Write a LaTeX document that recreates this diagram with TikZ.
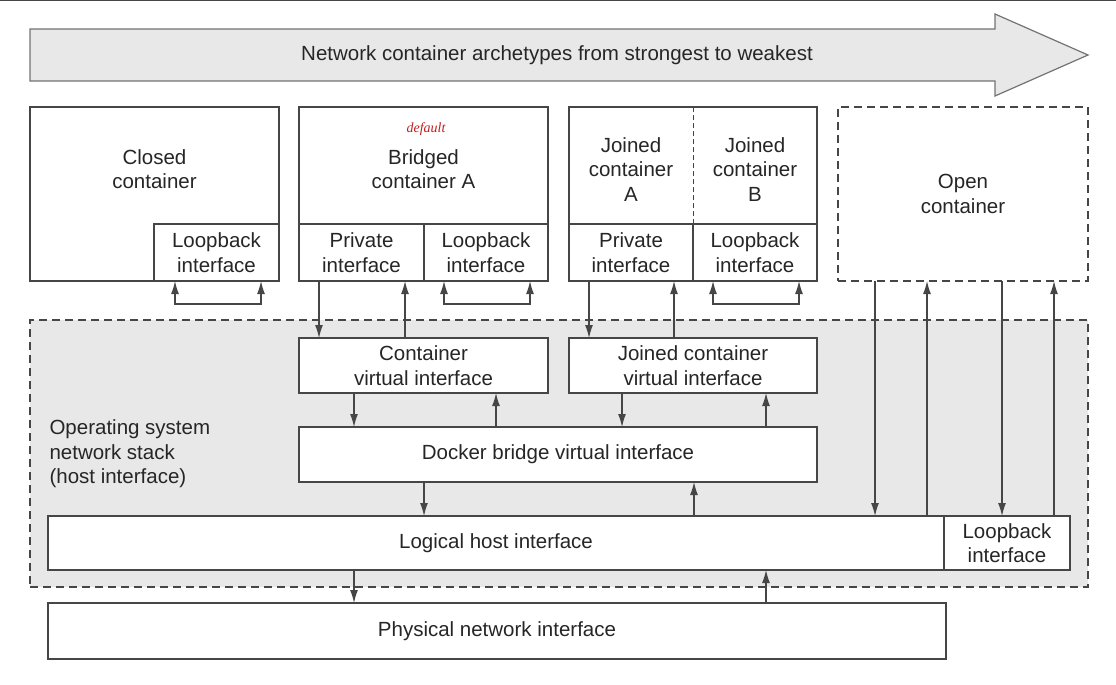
\documentclass[tikz,border=0pt]{standalone}
\usepackage{fontspec}
\setmainfont{Liberation Sans}
\newfontfamily\notefont{Liberation Serif}
\usetikzlibrary{arrows.meta}
\usetikzlibrary{positioning}
\definecolor{stackgray}{RGB}{232,232,232}
\definecolor{linegray}{RGB}{70,70,70}
\definecolor{notered}{RGB}{195,30,30}

\begin{document}
\begin{tikzpicture}[x=1pt, y=-1pt, >={Latex[length=13pt,width=8pt]}]
  \tikzset{every node/.style={font=\fontsize{20.5}{24.5}\selectfont, align=center, text=black!85},
    box/.style={draw=linegray, line width=1.2pt, fill=white, inner sep=0pt, outer sep=0pt},
    dashbox/.style={box, dash pattern=on 8pt off 5pt},
    link/.style={->, draw=linegray, line width=1.2pt}}
  \useasboundingbox (0,0) rectangle (1116,685);
  \draw[linegray, line width=1.5pt] (0,0.75) -- (1116,0.75);

  % strongest to weakest
  \filldraw[fill=stackgray, draw=black!55, line width=1.2pt]
    (30,29) -- (995,29) -- (995,14) -- (1088,55) -- (995,96) -- (995,81) -- (30,81) -- cycle;
  \node (scale) at (557,55) {Network container archetypes from strongest to weakest};

  % host side
  \node[dashbox, fill=stackgray, minimum width=1058pt, minimum height=267pt] (os) at (559,453.5) {};
  \node[anchor=west, align=left] (ostext) at (46,454) {Operating system\\network stack\\(host interface)};

  % containers
  \node[box, minimum width=249pt, minimum height=174pt] (closed) at (154.5,194) {};
  \node (closedtext) at (154.5,169) {Closed\\container};
  \node[box, anchor=south east, minimum width=125pt, minimum height=57pt] (closedlo) at (closed.south east) {Loopback\\interface};

  \node[box, minimum width=249pt, minimum height=174pt] (bridged) at (423.5,194) {};
  \node (bridgedtext) at (423.5,169) {Bridged\\container A};
  \node[font=\notefont\itshape\fontsize{14}{14}\selectfont, text=notered] (default) at (426,129) {default};
  \node[box, anchor=south west, minimum width=125pt, minimum height=57pt] (privA) at (bridged.south west) {Private\\interface};
  \node[box, anchor=south east, minimum width=124pt, minimum height=57pt] (loA) at (bridged.south east) {Loopback\\interface};

  \node[box, minimum width=248pt, minimum height=174pt] (joined) at (693,194) {};
  \node (joinedA) at (631,169.5) {Joined\\container\\A};
  \node (joinedB) at (755,169.5) {Joined\\container\\B};
  \node[box, anchor=south west, minimum width=124pt, minimum height=57pt] (privJ) at (joined.south west) {Private\\interface};
  \node[box, anchor=south east, minimum width=124pt, minimum height=57pt] (loJ) at (joined.south east) {Loopback\\interface};
  \draw[linegray, line width=1pt, dash pattern=on 5pt off 3pt] (loJ.north west) -- (joined.north -| loJ.west);

  \node[dashbox, minimum width=250pt, minimum height=174pt] (open) at (963,194) {Open\\container};

  % virtual interfaces
  \node[box, minimum width=249pt, minimum height=55pt] (cvi) at (423.5,365.5) {Container\\virtual interface};
  \node[box, minimum width=248pt, minimum height=55pt] (jcvi) at (693,365.5) {Joined container\\virtual interface};
  \node[box, minimum width=518pt, minimum height=55pt] (docker) at (558,454.5) {Docker bridge virtual interface};
  \node[box, minimum width=896pt, minimum height=54pt] (logical) at (496,543) {Logical host interface};
  \node[box, anchor=west, minimum width=126pt, minimum height=54pt] (hostlo) at (logical.east) {Loopback\\interface};
  \node[box, minimum width=898pt, minimum height=56pt] (physical) at (497,631) {Physical network interface};

  % loopbacks
  \draw[link, <->] (closedlo.south -| 175,0) -- ++(0,23) -| (closedlo.south -| 261,0);
  \draw[link, <->] (loA.south -| 444,0) -- ++(0,23) -| (loA.south -| 530,0);
  \draw[link, <->] (loJ.south -| 713,0) -- ++(0,23) -| (loJ.south -| 799,0);

  % container to host
  \draw[link] (privA.south -| 319,0) -- (cvi.north -| 319,0);
  \draw[link] (cvi.north -| 405,0) -- (privA.south -| 405,0);
  \draw[link] (privJ.south -| 589,0) -- (jcvi.north -| 589,0);
  \draw[link] (jcvi.north -| 674,0) -- (privJ.south -| 674,0);
  \draw[link] (open.south -| 875,0) -- (logical.north -| 875,0);
  \draw[link] (logical.north -| 927,0) -- (open.south -| 927,0);
  \draw[link] (open.south -| 1002,0) -- (hostlo.north -| 1002,0);
  \draw[link] (hostlo.north -| 1054,0) -- (open.south -| 1054,0);

  \draw[link] (cvi.south -| 354,0) -- (docker.north -| 354,0);
  \draw[link] (docker.north -| 496,0) -- (cvi.south -| 496,0);
  \draw[link] (jcvi.south -| 622,0) -- (docker.north -| 622,0);
  \draw[link] (docker.north -| 766,0) -- (jcvi.south -| 766,0);
  \draw[link] (docker.south -| 424,0) -- (logical.north -| 424,0);
  \draw[link] (logical.north -| 694,0) -- (docker.south -| 694,0);
  \draw[link] (logical.south -| 354,0) -- (physical.north -| 354,0);
  \draw[link] (physical.north -| 766,0) -- (logical.south -| 766,0);
\end{tikzpicture}
\end{document}
